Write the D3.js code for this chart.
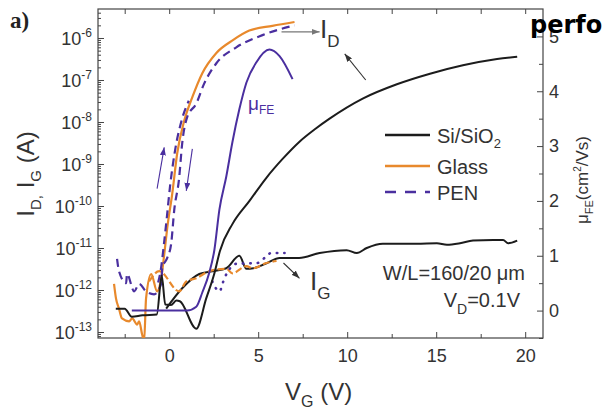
<!DOCTYPE html>
<html>
<head>
<meta charset="utf-8">
<script src="https://cdn.jsdelivr.net/npm/d3@7"></script>
<style>
  body { margin: 0; background: #fff; }
  svg { font-family: "Liberation Sans", Arial, sans-serif; }
</style>
</head>
<body>
<svg id="chart" width="604" height="412"></svg>
<script>
// ---- data (V in volts, I in amps, mu in cm2/Vs) ----
const siDrainV = [-3.0, -2.5, -2.1, -1.5, -0.7, -0.42, -0.22, 0.1, 0.4, 0.6, 1.52, 2.08, 2.54, 2.85, 3.55, 4.51, 5.46, 6.37, 7.32, 8.2, 9.01, 10.87, 12.79, 14.65, 16.5, 18.42, 19.55];
const siDrainI = [3.6e-13, 3.6e-13, 2.3e-13, 2.5e-13, 2.6e-13, 2.2e-12, 4.5e-13, 4.4e-13, 5.6e-13, 5.4e-13, 1.2e-13, 6.3e-13, 2.5e-12, 8.5e-12, 3.7e-11, 1.32e-10, 4.7e-10, 1.32e-9, 3.4e-9, 6.8e-9, 1.2e-8, 3.6e-8, 7.9e-8, 1.41e-7, 2.24e-7, 3.16e-7, 3.6e-7];

const siGateV = [-0.17, 0.73, 1.69, 2.42, 3.21, 3.94, 4.34, 4.73, 5.5, 6.2, 7.3, 8.45, 9.97, 10.54, 11.1, 12.0, 12.96, 13.9, 15.04, 15.6, 16.34, 17.07, 18.2, 18.76, 19.04, 19.55];
const siGateI = [3.6e-13, 1.1e-12, 2.4e-12, 2.8e-12, 3.3e-12, 6.5e-12, 3.2e-12, 3.3e-12, 4.4e-12, 5.8e-12, 5.8e-12, 7.6e-12, 8.9e-12, 7.6e-12, 1.0e-11, 1.26e-11, 1.26e-11, 1.26e-11, 1.3e-11, 1.2e-11, 1.3e-11, 1.5e-11, 1.55e-11, 1.55e-11, 1.3e-11, 1.5e-11];

const glassDrainV = [-3.1, -2.99, -2.82, -2.65, -2.25, -2.08, -1.8, -1.69, -1.52, -1.41, -1.3, -1.01, -0.68, -0.45, -0.28, -0.11, 0.17, 0.45, 0.85, 1.3, 1.86, 2.65, 3.6, 4.5, 5.8, 7.04];
const glassDrainI = [1.4e-12, 6.3e-13, 3.6e-13, 2.1e-13, 1.8e-13, 2.1e-13, 1.5e-13, 1.8e-13, 8.7e-14, 6e-14, 6.3e-13, 2.4e-12, 9.3e-13, 1.9e-12, 7e-12, 3.0e-11, 1.95e-10, 1.8e-9, 1.1e-8, 3.9e-8, 1.45e-7, 4.4e-7, 9e-7, 1.5e-6, 1.95e-6, 2.4e-6];

const glassGateV = [-1.13, -0.56, 0.56, 0.96, 1.52, 2.25, 3.21, 3.55, 4.34, 4.68, 5.46, 6.03];
const glassGateI = [1.6e-12, 2.8e-12, 9.3e-13, 1.6e-12, 1.9e-12, 2.8e-12, 3.2e-12, 2.5e-12, 3.7e-12, 3.3e-12, 4.4e-12, 4.9e-12];

const penFwdV = [-2.93, -2.82, -2.42, -2.37, -1.97, -1.69, -1.3, -0.85, -0.45, -0.39, -0.11, 0.11, 0.28, 0.56, 0.73, 1.01, 1.52, 1.97, 2.65, 3.77, 5.24, 7.04];
const penFwdI = [5.5e-12, 2.8e-12, 1.45e-12, 2.4e-12, 9.3e-13, 1.4e-12, 9.3e-13, 7.9e-13, 1.4e-12, 3.3e-12, 5.8e-12, 1.26e-11, 7.8e-11, 4.7e-10, 3.1e-9, 1.3e-8, 2.75e-8, 8.3e-8, 2.5e-7, 6.0e-7, 1.17e-6, 2.0e-6];

const penRevV = [-0.62, -0.45, -0.3, -0.14, 0.05, 0.32, 0.7, 1.1];
const penRevI = [1.5e-12, 3.5e-12, 1.2e-11, 5e-11, 3e-10, 2e-9, 1.1e-8, 3.2e-8];

const penGateV = [2.42, 2.82, 3.1, 3.77, 4.96, 5.75, 6.48];
const penGateI = [1.6e-12, 9.3e-13, 1.9e-12, 4.2e-12, 4.4e-12, 7.6e-12, 7.6e-12];

const muV = [-2.1, 1.0, 1.52, 1.86, 2.25, 2.54, 2.82, 3.21, 3.55, 3.94, 4.34, 4.9, 5.63, 6.2, 6.93];
const muVal = [0, 0, 0.07, 0.33, 0.69, 1.11, 1.84, 2.45, 3.07, 3.67, 4.16, 4.53, 4.76, 4.64, 4.22];

const xTicks = [0, 5, 10, 15, 20];
const xMinorTicks = [-2.5, 2.5, 7.5, 12.5, 17.5];
const decadeExps = [-13, -12, -11, -10, -9, -8, -7, -6];
const muTicks = [0, 1, 2, 3, 4, 5];
const muMinorTicks = [-0.5, 0.5, 1.5, 2.5, 3.5, 4.5];

const legendNames = ["Si/SiO", "Glass", "PEN"];

// annotation arrows, ends given in data units [V, I]
const arrowEnds = [
    [[6.31, 1.4e-6], [8.45, 1.4e-6]],
    [[11.04, 1.0e-7], [9.86, 4.2e-7]],
    [[6.42, 4.4e-12], [7.32, 1.9e-12]],
    [[-0.68, 2.6e-10], [-0.28, 2.5e-9]],
    [[1.3, 2.3e-9], [0.96, 2.3e-10]]
];

// ---- drawing ----
const black = "#1c1c1c", orange = "#e8892c", purple = "#4a2f9f", axisCol = "#444";

const svg = d3.select("#chart");
const x = d3.scaleLinear().domain([-4, 21]).range([98, 543]);
const yI = d3.scaleLog().domain([7.2e-14, 4.9e-6]).range([338, 9]);
const yMu = d3.scaleLinear().domain([-0.5, 5.5]).range([338, 9]);

const defs = svg.append("defs");
defs.append("clipPath").attr("id", "plotClip")
    .append("rect").attr("x", 98).attr("y", 9).attr("width", 445).attr("height", 329);

function addMarker(id, col) {
    defs.append("marker")
        .attr("id", id)
        .attr("viewBox", "0 0 8 6")
        .attr("refX", 8).attr("refY", 3)
        .attr("markerWidth", 8).attr("markerHeight", 6)
        .attr("markerUnits", "userSpaceOnUse")
        .attr("orient", "auto")
        .append("path").attr("d", "M0,0 L8,3 L0,6 z").attr("fill", col);
}
addMarker("arrDark", "#333");
addMarker("arrGray", "#777");
addMarker("arrPurple", purple);

function styleAxis(g) {
    g.select(".domain").remove();
    g.selectAll(".tick line").attr("stroke", axisCol);
    g.attr("font-family", null).attr("font-size", 18);
    g.selectAll(".tick text").attr("fill", "#333");
}

// bottom axis
svg.append("g").attr("transform", "translate(0,338)")
    .call(d3.axisBottom(x).tickValues(xMinorTicks).tickSize(-4).tickFormat(""))
    .call(styleAxis);
svg.append("g").attr("transform", "translate(0,338)")
    .call(d3.axisBottom(x).tickValues(xTicks).tickSize(-6).tickPadding(11).tickFormat(d3.format("d")))
    .call(styleAxis);
// top axis
svg.append("g").attr("transform", "translate(0,9)")
    .call(d3.axisTop(x).tickValues(xTicks.concat(xMinorTicks)).tickSize(-5).tickFormat(""))
    .call(styleAxis);

// left log axis
const decadeVals = decadeExps.map(e => Math.pow(10, e));
const minorVals = [];
for (let e = -14; e <= -6; e++) {
    for (let m = 2; m <= 9; m++) {
        const v = m * Math.pow(10, e);
        if (v >= yI.domain()[0] && v <= yI.domain()[1]) minorVals.push(v);
    }
}
svg.append("g").attr("transform", "translate(98,0)")
    .call(d3.axisLeft(yI).tickValues(minorVals).tickSize(-3).tickFormat(""))
    .call(styleAxis);
svg.append("g").attr("transform", "translate(98,0)")
    .call(d3.axisLeft(yI).tickValues(decadeVals).tickSize(-6).tickFormat(""))
    .call(styleAxis);

const decLabels = svg.append("g").attr("fill", "#333").attr("text-anchor", "end");
decadeExps.forEach((e, i) => {
    const t = decLabels.append("text")
        .attr("x", 92)
        .attr("y", yI(decadeVals[i]) + 7)
        .attr("font-size", 18);
    t.append("tspan").text("10");
    t.append("tspan").attr("font-size", 12).attr("dy", -8).text(String(e));
});

// right mobility axis
svg.append("g").attr("transform", "translate(543,0)")
    .call(d3.axisRight(yMu).tickValues(muMinorTicks).tickSize(-4).tickFormat(""))
    .call(styleAxis);
svg.append("g").attr("transform", "translate(543,0)")
    .call(d3.axisRight(yMu).tickValues(muTicks).tickSize(-6).tickPadding(6).tickFormat(d3.format("d")))
    .call(styleAxis);

// frame
svg.append("rect")
    .attr("x", 98).attr("y", 9).attr("width", 445).attr("height", 329)
    .attr("fill", "none").attr("stroke", axisCol).attr("stroke-width", 1.2);

// curves
const plot = svg.append("g").attr("clip-path", "url(#plotClip)");

const lineI = d3.line()
    .x(d => x(d[0]))
    .y(d => yI(Math.max(d[1], 1e-14)))
    .curve(d3.curveMonotoneX);
const lineMu = d3.line()
    .x(d => x(d[0]))
    .y(d => yMu(d[1]))
    .curve(d3.curveMonotoneX);

function drawI(vs, is, col, width, dash) {
    plot.append("path")
        .datum(d3.zip(vs, is))
        .attr("d", lineI)
        .attr("fill", "none")
        .attr("stroke", col)
        .attr("stroke-width", width)
        .attr("stroke-linecap", dash === "dot" ? "round" : "butt")
        .attr("stroke-dasharray", dash === "dot" ? "0.5,7" : dash);
}

drawI(siGateV, siGateI, black, 2, null);
drawI(glassGateV, glassGateI, orange, 2.2, "7,3");
drawI(penGateV, penGateI, purple, 2.6, "dot");
drawI(glassDrainV, glassDrainI, orange, 2.2, null);
drawI(penRevV, penRevI, purple, 2.2, "8,5");
drawI(penFwdV, penFwdI, purple, 2.2, "8,5");
drawI(siDrainV, siDrainI, black, 2, null);

plot.append("path")
    .datum(d3.zip(muV, muVal))
    .attr("d", lineMu)
    .attr("fill", "none")
    .attr("stroke", purple)
    .attr("stroke-width", 2);

// arrows
const arrowStyle = [["#777", "arrGray"], ["#333", "arrDark"], ["#333", "arrDark"], [purple, "arrPurple"], [purple, "arrPurple"]];
arrowEnds.forEach((a, i) => {
    svg.append("line")
        .attr("x1", x(a[0][0])).attr("y1", yI(a[0][1]))
        .attr("x2", x(a[1][0])).attr("y2", yI(a[1][1]))
        .attr("stroke", arrowStyle[i][0])
        .attr("stroke-width", 1.1)
        .attr("marker-end", "url(#" + arrowStyle[i][1] + ")");
});

// curve labels
const idLab = svg.append("text").attr("x", 320).attr("y", 38).attr("font-size", 26).attr("fill", "#333");
idLab.append("tspan").text("I");
idLab.append("tspan").attr("font-size", 17).attr("dy", 9).text("D");

const igLab = svg.append("text").attr("x", 310).attr("y", 290).attr("font-size", 26).attr("fill", "#333");
igLab.append("tspan").text("I");
igLab.append("tspan").attr("font-size", 17).attr("dy", 9).text("G");

const muLab = svg.append("text").attr("x", 248).attr("y", 110).attr("font-size", 19).attr("fill", purple);
muLab.append("tspan").text("μ");
muLab.append("tspan").attr("font-size", 12).attr("dy", 4).text("FE");

// legend
const legY = [135, 166, 192];
const legCols = [black, orange, purple];
legendNames.forEach((name, i) => {
    svg.append("line")
        .attr("x1", 385).attr("x2", 430)
        .attr("y1", legY[i]).attr("y2", legY[i])
        .attr("stroke", legCols[i])
        .attr("stroke-width", 2.4)
        .attr("stroke-dasharray", i === 2 ? "11,9" : null);
    const t = svg.append("text")
        .attr("x", 437).attr("y", legY[i] + 8)
        .attr("font-size", 20).attr("fill", "#333");
    t.append("tspan").text(name);
    if (i === 0) t.append("tspan").attr("font-size", 13).attr("dy", 5).text("2");
});

// device annotation
svg.append("text")
    .attr("x", 525).attr("y", 280)
    .attr("text-anchor", "end")
    .attr("font-size", 20).attr("fill", "#333")
    .text("W/L=160/20 μm");
const vdLab = svg.append("text")
    .attr("x", 520).attr("y", 307)
    .attr("text-anchor", "end")
    .attr("font-size", 20).attr("fill", "#333");
vdLab.append("tspan").text("V");
vdLab.append("tspan").attr("font-size", 14).attr("dy", 7).text("D");
vdLab.append("tspan").attr("dy", -7).text("=0.1V");

// axis titles
const xTitle = svg.append("text").attr("x", 285).attr("y", 400).attr("font-size", 24).attr("fill", "#333");
xTitle.append("tspan").text("V");
xTitle.append("tspan").attr("font-size", 16).attr("dy", 7).text("G");
xTitle.append("tspan").attr("dy", -7).text(" (V)");

const yTitle = svg.append("text")
    .attr("transform", "translate(34,174) rotate(-90)")
    .attr("text-anchor", "middle")
    .attr("font-size", 24).attr("fill", "#333");
yTitle.append("tspan").text("I");
yTitle.append("tspan").attr("font-size", 15).attr("dy", 7).text("D,");
yTitle.append("tspan").attr("dy", -7).text(" I");
yTitle.append("tspan").attr("font-size", 15).attr("dy", 7).text("G");
yTitle.append("tspan").attr("dy", -7).text(" (A)");

const muTitle = svg.append("text")
    .attr("transform", "translate(588,180) rotate(-90)")
    .attr("text-anchor", "middle")
    .attr("font-size", 17).attr("fill", "#333");
muTitle.append("tspan").text("μ");
muTitle.append("tspan").attr("font-size", 11).attr("dy", 5).text("FE");
muTitle.append("tspan").attr("dy", -5).text("(cm");
muTitle.append("tspan").attr("font-size", 10).attr("dy", -7).text("2");
muTitle.append("tspan").attr("dy", 7).text("/Vs)");

// panel letter and cropped heading
svg.append("text")
    .attr("x", 10).attr("y", 28)
    .attr("font-family", "'Liberation Serif', 'DejaVu Serif', serif")
    .attr("font-weight", "bold")
    .attr("font-size", 23)
    .attr("fill", "#222")
    .text("a)");
svg.append("text")
    .attr("x", 530).attr("y", 33)
    .attr("font-family", "'DejaVu Sans', sans-serif")
    .attr("font-weight", "bold")
    .attr("font-size", 24)
    .attr("fill", "#000")
    .text("perfo");
</script>
</body>
</html>
